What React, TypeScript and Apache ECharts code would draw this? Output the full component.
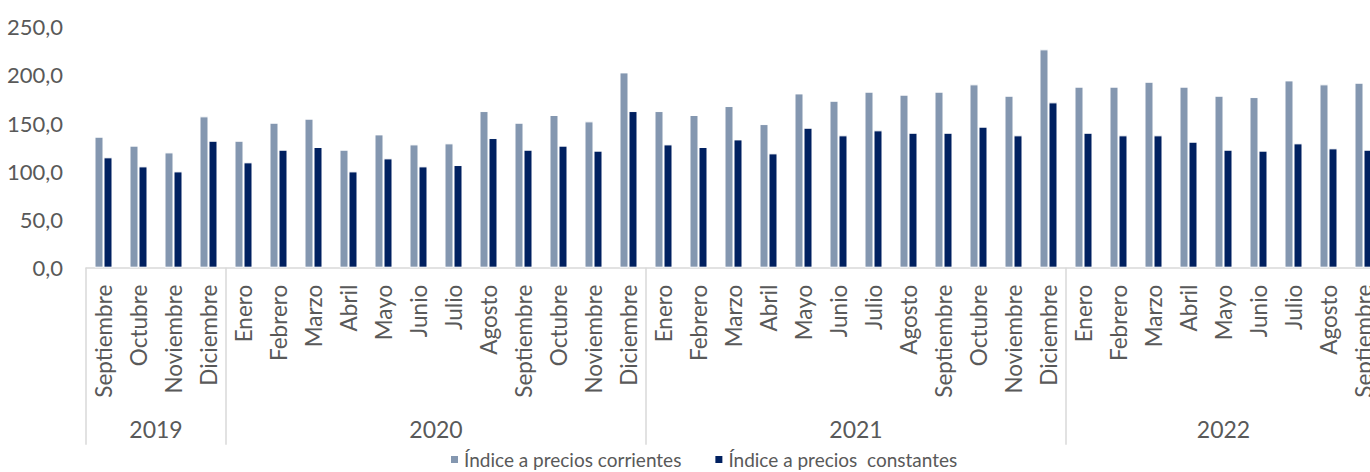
import React, { useEffect, useRef } from "react";
import * as echarts from "echarts";

const months = [
  "Septiembre", "Octubre", "Noviembre", "Diciembre",
  "Enero", "Febrero", "Marzo", "Abril", "Mayo", "Junio", "Julio", "Agosto", "Septiembre", "Octubre", "Noviembre", "Diciembre",
  "Enero", "Febrero", "Marzo", "Abril", "Mayo", "Junio", "Julio", "Agosto", "Septiembre", "Octubre", "Noviembre", "Diciembre",
  "Enero", "Febrero", "Marzo", "Abril", "Mayo", "Junio", "Julio", "Agosto", "Septiembre",
];
const years = ["2019", "2020", "2021", "2022"];
const yearCounts = [4, 12, 12, 9];

const corrientes = [
  135.9, 126.6, 119.6, 157.0,
  131.7, 150.4, 154.6, 122.4, 138.3, 127.9, 129.0, 162.5, 150.4, 158.4, 151.8, 202.6,
  162.5, 158.4, 167.7, 149.0, 180.8, 173.2, 182.6, 179.5, 182.6, 190.2, 178.4, 226.5,
  187.8, 187.8, 192.9, 187.8, 178.4, 177.0, 194.3, 190.2, 191.9,
];
const constantes = [
  114.5, 105.1, 99.9, 131.7,
  109.3, 122.4, 125.2, 99.9, 113.4, 105.1, 106.5, 134.5, 122.4, 126.6, 121.4, 162.5,
  127.9, 125.2, 133.1, 118.6, 145.2, 137.3, 142.5, 140.0, 140.0, 146.3, 137.3, 171.5,
  140.0, 137.3, 137.3, 130.7, 122.4, 121.4, 129.0, 123.8, 122.4,
];
const seriesNames = ["Índice a precios corrientes", "Índice a precios  constantes"];
const yTicks = { min: 0, max: 250, interval: 50 };

export default function App() {
  const ref = useRef<HTMLDivElement>(null);
  useEffect(() => {
    document.body.style.margin = "0";
    if (!ref.current) return;
    const chart = echarts.init(ref.current, null, { renderer: "svg" });

    const starts: number[] = [];
    const yearLabels: string[] = months.map(() => "");
    const shifted: boolean[] = months.map(() => false);
    let acc = 0;
    years.forEach((y, i) => {
      starts.push(acc);
      const c = yearCounts[i];
      const mid = acc + Math.floor((c - 1) / 2);
      yearLabels[mid] = y;
      shifted[mid] = c % 2 === 0;
      acc += c;
    });

    const font = "Lato, 'Open Sans', sans-serif";
    const txt = "#595959";
    const gridLine = "#d9d9d9";

    chart.setOption({
      animation: false,
      grid: { left: 86, top: 26.7, width: 1295, height: 241, outerBoundsMode: "none" },
      legend: {
        left: 449,
        top: 450,
        padding: 0,
        itemWidth: 9,
        itemHeight: 9,
        itemGap: 32,
        icon: "rect",
        textStyle: { fontFamily: font, fontSize: 19, color: txt },
        data: seriesNames,
      },
      xAxis: [
        {
          type: "category",
          data: months,
          position: "bottom",
          axisLine: { lineStyle: { color: gridLine, width: 1.5 } },
          axisTick: {
            show: true,
            length: 177,
            interval: (index: number) => starts.includes(index),
            lineStyle: { color: gridLine, width: 1.5 },
          },
          axisLabel: {
            interval: 0,
            rotate: 90,
            margin: 17,
            fontFamily: font,
            fontSize: 22.5,
            color: txt,
          },
        },
        {
          type: "category",
          data: yearLabels,
          position: "bottom",
          axisLine: { show: false },
          axisTick: { show: false },
          axisLabel: {
            interval: 0,
            margin: 150,
            formatter: (v: string, i: number) => (v ? (shifted[i] ? `{s|${v}}` : `{c|${v}}`) : ""),
            rich: {
              s: { fontFamily: font, fontSize: 23, color: txt, padding: [0, 0, 0, 35] },
              c: { fontFamily: font, fontSize: 23, color: txt },
            },
          },
        },
      ],
      yAxis: {
        type: "value",
        min: yTicks.min,
        max: yTicks.max,
        interval: yTicks.interval,
        splitLine: { show: false },
        axisLine: { show: false },
        axisTick: { show: false },
        axisLabel: {
          margin: 23,
          fontFamily: font,
          fontSize: 22,
          color: txt,
          formatter: (v: number) => v.toFixed(1).replace(".", ","),
        },
      },
      series: [
        {
          name: seriesNames[0],
          type: "bar",
          data: corrientes,
          barWidth: 9,
          barGap: "0%",
          itemStyle: { color: "#8497B0", borderColor: "#ffffff", borderWidth: 1 },
        },
        {
          name: seriesNames[1],
          type: "bar",
          data: constantes,
          barWidth: 9,
          barGap: "0%",
          itemStyle: { color: "#002060", borderColor: "#ffffff", borderWidth: 1 },
        },
      ],
    });
    return () => chart.dispose();
  }, []);
  return <div ref={ref} style={{ width: 1370, height: 472 }} />;
}
